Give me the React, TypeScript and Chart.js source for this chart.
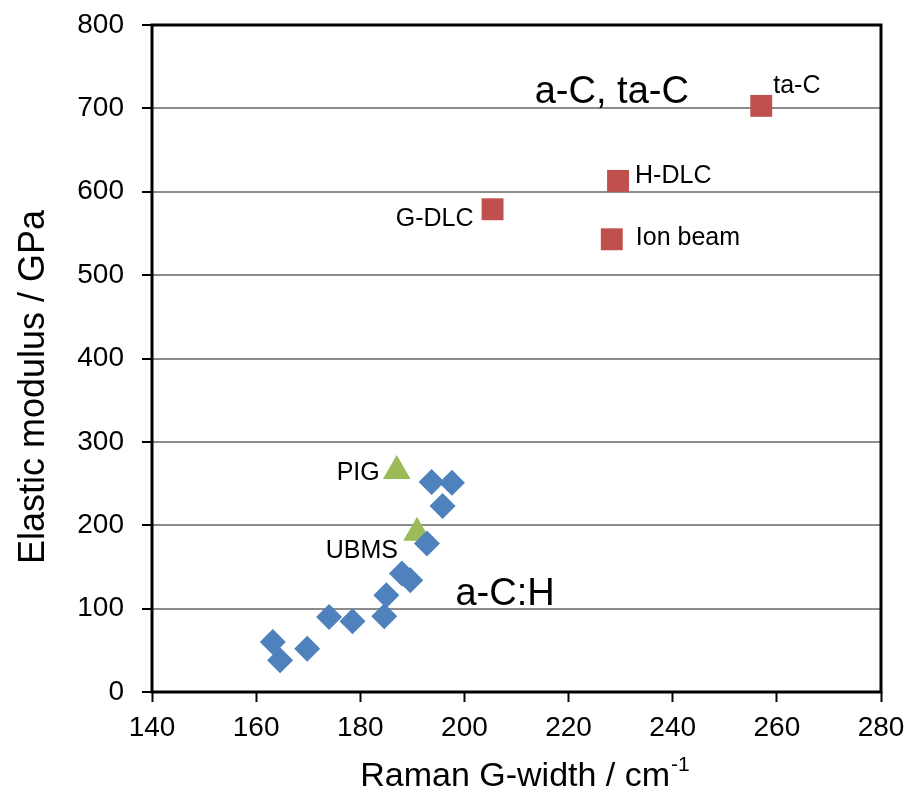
import React, { useEffect, useRef } from "react";
import { Chart, registerables } from "chart.js";

Chart.register(...registerables);

// a-C:H films (blue diamonds)
const achX = [163.2, 164.6, 169.8, 174.0, 178.5, 184.6, 185.0, 188.0, 189.6, 192.8, 193.7, 197.6, 195.8];
const achY = [60, 38, 52, 90, 85, 91, 116, 142, 134, 178, 252, 251, 223];

// a-C / ta-C films (red squares)
const tacNames = ["ta-C", "H-DLC", "G-DLC", "Ion beam"];
const tacX = [257.0, 229.5, 205.4, 228.3];
const tacY = [703, 613, 579, 543];

// plasma deposited films (green triangles)
const plasmaNames = ["PIG", "UBMS"];
const plasmaX = [187.0, 190.9];
const plasmaY = [265, 191];

// axis ticks
const xTicks = [140, 160, 180, 200, 220, 240, 260, 280];
const yTicks = [0, 100, 200, 300, 400, 500, 600, 700, 800];

// region captions, anchored in data units
const regionText = ["a-C, ta-C", "a-C:H"];
const regionX = [228.3, 207.8];
const regionY = [707, 104];

const FONT = "'Liberation Sans', Arial, sans-serif";

// placement of each point caption relative to its marker
const noteStyle: Record<string, { align: CanvasTextAlign; dx: number; dy: number }> = {
  "ta-C": { align: "left", dx: 12, dy: -13 },
  "H-DLC": { align: "left", dx: 17, dy: 2 },
  "G-DLC": { align: "right", dx: -19, dy: 17 },
  "Ion beam": { align: "left", dx: 24, dy: 6 },
  PIG: { align: "right", dx: -17, dy: 9 },
  UBMS: { align: "right", dx: -19, dy: 25 },
};

const zip = (xs: number[], ys: number[]) => xs.map((x, i) => ({ x, y: ys[i] }));

const framePlugin = {
  id: "frame",
  beforeDatasetsDraw(chart: any) {
    const { ctx, chartArea: a } = chart;
    ctx.save();
    ctx.strokeStyle = "#000";
    ctx.lineWidth = 3;
    ctx.strokeRect(a.left, a.top, a.right - a.left, a.bottom - a.top);
    ctx.restore();
  },
};

const textPlugin = {
  id: "texts",
  afterDatasetsDraw(chart: any) {
    const { ctx, scales } = chart;
    const xs = scales.x;
    const ys = scales.y;
    ctx.save();
    ctx.fillStyle = "#000";

    // point captions
    ctx.font = `25px ${FONT}`;
    ctx.textBaseline = "alphabetic";
    const captionSets: [number, string[]][] = [
      [1, tacNames],
      [2, plasmaNames],
    ];
    captionSets.forEach(([di, names]) => {
      const meta = chart.getDatasetMeta(di);
      names.forEach((name, i) => {
        const el = meta.data[i];
        const st = noteStyle[name];
        ctx.textAlign = st.align;
        ctx.fillText(name, el.x + st.dx, el.y + st.dy);
      });
    });

    // region captions
    ctx.font = `38px ${FONT}`;
    ctx.textAlign = "center";
    regionText.forEach((t, i) => {
      ctx.fillText(t, xs.getPixelForValue(regionX[i]), ys.getPixelForValue(regionY[i]));
    });

    // x-axis title with superscript
    const cx = (chart.chartArea.left + chart.chartArea.right) / 2 + 8;
    const main = "Raman G-width / cm";
    const sup = "-1";
    ctx.font = `34px ${FONT}`;
    const wMain = ctx.measureText(main).width;
    ctx.font = `21px ${FONT}`;
    const wSup = ctx.measureText(sup).width;
    const start = cx - (wMain + wSup) / 2;
    ctx.textAlign = "left";
    ctx.font = `34px ${FONT}`;
    ctx.fillText(main, start, 786);
    ctx.font = `21px ${FONT}`;
    ctx.fillText(sup, start + wMain + 1, 771);

    // y-axis title
    ctx.save();
    ctx.translate(44, 387);
    ctx.rotate(-Math.PI / 2);
    ctx.font = `36px ${FONT}`;
    ctx.textAlign = "center";
    ctx.fillText("Elastic modulus / GPa", 0, 0);
    ctx.restore();

    ctx.restore();
  },
};

export default function App() {
  const ref = useRef<HTMLCanvasElement | null>(null);

  useEffect(() => {
    if (!ref.current) return;
    const chart = new Chart(ref.current, {
      type: "scatter",
      data: {
        datasets: [
          {
            label: "a-C:H",
            data: zip(achX, achY),
            pointStyle: "rectRot",
            pointRadius: 13,
            backgroundColor: "#4F81BD",
            borderColor: "#4F81BD",
            borderWidth: 0,
          },
          {
            label: "a-C, ta-C",
            data: zip(tacX, tacY),
            pointStyle: "rect",
            pointRadius: 15.5,
            backgroundColor: "#C0504D",
            borderColor: "#C0504D",
            borderWidth: 0,
          },
          {
            label: "plasma",
            data: zip(plasmaX, plasmaY),
            pointStyle: "triangle",
            pointRadius: 16,
            backgroundColor: "#9BBB59",
            borderColor: "#9BBB59",
            borderWidth: 0,
          },
        ],
      },
      options: {
        responsive: false,
        animation: false,
        events: [],
        layout: { padding: { top: 25, right: 28, bottom: 0, left: 0 } },
        plugins: { legend: { display: false }, tooltip: { enabled: false } },
        scales: {
          x: {
            type: "linear",
            min: xTicks[0],
            max: xTicks[xTicks.length - 1],
            afterBuildTicks: (s: any) => {
              s.ticks = xTicks.map((v) => ({ value: v }));
            },
            afterFit: (s: any) => {
              s.height = 113;
              s.paddingLeft = 0;
              s.paddingRight = 0;
            },
            ticks: {
              color: "#000",
              font: { family: FONT, size: 28 },
              padding: 9,
              maxRotation: 0,
            },
            grid: {
              drawOnChartArea: false,
              drawTicks: true,
              tickLength: 10,
              tickColor: "#000",
              tickWidth: 2,
            },
            border: { display: false },
          },
          y: {
            type: "linear",
            min: yTicks[0],
            max: yTicks[yTicks.length - 1],
            afterBuildTicks: (s: any) => {
              s.ticks = yTicks.map((v) => ({ value: v }));
            },
            afterFit: (s: any) => {
              s.width = 152;
              s.paddingTop = 0;
              s.paddingBottom = 0;
            },
            ticks: {
              color: "#000",
              font: { family: FONT, size: 28 },
              padding: 18,
            },
            grid: {
              color: "#8C8C8C",
              lineWidth: 2,
              drawTicks: true,
              tickLength: 10,
              tickColor: "#000",
              tickWidth: 2,
            },
            border: { display: false },
          },
        },
      },
      plugins: [framePlugin, textPlugin],
    });
    return () => chart.destroy();
  }, []);

  return (
    <div style={{ position: "fixed", left: 0, top: 0, width: 909, height: 805, background: "#fff" }}>
      <canvas ref={ref} width={909} height={805} />
    </div>
  );
}
